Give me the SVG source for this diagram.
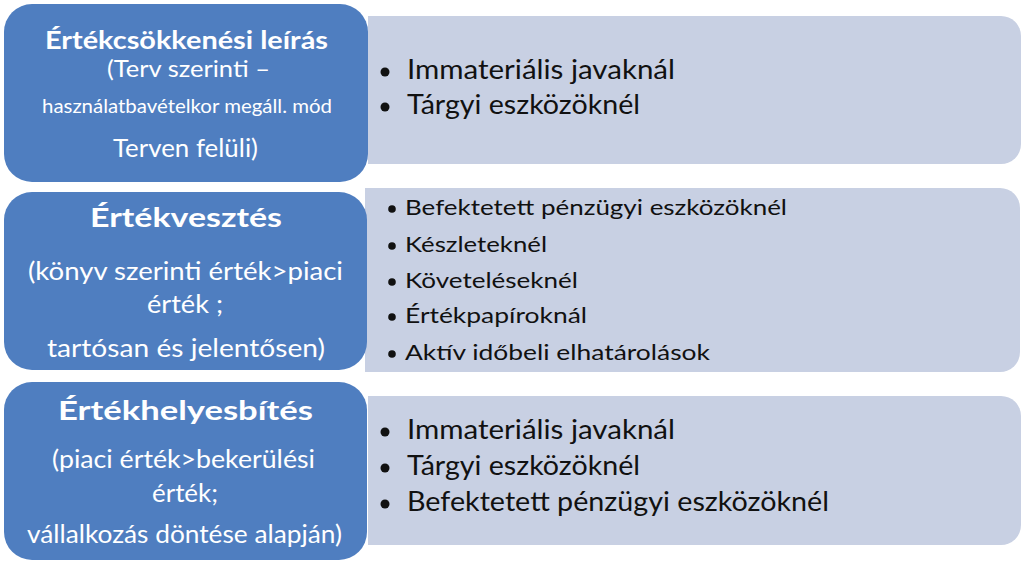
<svg xmlns="http://www.w3.org/2000/svg" width="1023" height="569" viewBox="0 0 1023 569">
<style>
.blue{fill:#4f7ec0}
.gray{fill:#c8d0e3}
.wt{fill:#ffffff;font-family:Lato,"Open Sans","Liberation Sans",sans-serif}
.wb{font-weight:bold}
.dk{fill:#111111;font-family:Lato,"Open Sans","Liberation Sans",sans-serif}
.dot{fill:#111111}
</style>
<rect width="1023" height="569" fill="#ffffff"/>
<g id="list1">
<path class="gray" d="M368,16 H1001 A20,20 0 0 1 1021,36 V144 A20,20 0 0 1 1001,164 H368 Z"/>
<circle class="dot" cx="385" cy="72" r="4.5"/>
<text class="dk" x="407" y="79" font-size="26" textLength="268" lengthAdjust="spacingAndGlyphs">Immateriális javaknál</text>
<circle class="dot" cx="385" cy="107" r="4.5"/>
<text class="dk" x="407" y="114" font-size="26" textLength="233" lengthAdjust="spacingAndGlyphs">Tárgyi eszközöknél</text>
</g>
<g id="list2">
<path class="gray" d="M365,188 H1000 A20,20 0 0 1 1020,208 V352 A20,20 0 0 1 1000,372 H365 Z"/>
<circle class="dot" cx="392" cy="209" r="3.8"/>
<text class="dk" x="405" y="215" font-size="22" textLength="382" lengthAdjust="spacingAndGlyphs">Befektetett pénzügyi eszközöknél</text>
<circle class="dot" cx="392" cy="246" r="3.8"/>
<text class="dk" x="405" y="252" font-size="22" textLength="142" lengthAdjust="spacingAndGlyphs">Készleteknél</text>
<circle class="dot" cx="392" cy="282" r="3.8"/>
<text class="dk" x="405" y="288" font-size="22" textLength="173" lengthAdjust="spacingAndGlyphs">Követeléseknél</text>
<circle class="dot" cx="392" cy="317" r="3.8"/>
<text class="dk" x="405" y="323" font-size="22" textLength="182" lengthAdjust="spacingAndGlyphs">Értékpapíroknál</text>
<circle class="dot" cx="392" cy="354" r="3.8"/>
<text class="dk" x="405" y="360" font-size="22" textLength="305" lengthAdjust="spacingAndGlyphs">Aktív időbeli elhatárolások</text>
</g>
<g id="list3">
<path class="gray" d="M368,396 H1001 A20,20 0 0 1 1021,416 V525 A20,20 0 0 1 1001,545 H368 Z"/>
<circle class="dot" cx="385" cy="432" r="4.5"/>
<text class="dk" x="407" y="439" font-size="26" textLength="268" lengthAdjust="spacingAndGlyphs">Immateriális javaknál</text>
<circle class="dot" cx="385" cy="468" r="4.5"/>
<text class="dk" x="407" y="475" font-size="26" textLength="233" lengthAdjust="spacingAndGlyphs">Tárgyi eszközöknél</text>
<circle class="dot" cx="385" cy="504" r="4.5"/>
<text class="dk" x="407" y="511" font-size="26" textLength="422" lengthAdjust="spacingAndGlyphs">Befektetett pénzügyi eszközöknél</text>
</g>
<g id="node1">
<rect class="blue" x="4" y="4" width="364" height="178" rx="28"/>
<text class="wt wb" x="45" y="49" font-size="24" textLength="283" lengthAdjust="spacingAndGlyphs">Értékcsökkenési leírás</text>
<text class="wt" x="107" y="77" font-size="23" textLength="163" lengthAdjust="spacingAndGlyphs">(Terv szerinti –</text>
<text class="wt" x="42" y="113" font-size="19" textLength="290" lengthAdjust="spacingAndGlyphs">használatbavételkor megáll. mód</text>
<text class="wt" x="113" y="157" font-size="25" textLength="145" lengthAdjust="spacingAndGlyphs">Terven felüli)</text>
</g>
<g id="node2">
<rect class="blue" x="4" y="192" width="363" height="178" rx="28"/>
<text class="wt wb" x="90" y="227" font-size="27" textLength="192" lengthAdjust="spacingAndGlyphs">Értékvesztés</text>
<text class="wt" x="28" y="280" font-size="25" textLength="315" lengthAdjust="spacingAndGlyphs">(könyv szerinti érték&gt;piaci</text>
<text class="wt" x="147" y="313" font-size="25" textLength="76" lengthAdjust="spacingAndGlyphs">érték ;</text>
<text class="wt" x="47" y="357" font-size="25" textLength="278" lengthAdjust="spacingAndGlyphs">tartósan és jelentősen)</text>
</g>
<g id="node3">
<rect class="blue" x="4" y="382" width="363" height="178" rx="28"/>
<text class="wt wb" x="58" y="420" font-size="26" textLength="255" lengthAdjust="spacingAndGlyphs">Értékhelyesbítés</text>
<text class="wt" x="52" y="468" font-size="25" textLength="263" lengthAdjust="spacingAndGlyphs">(piaci érték&gt;bekerülési</text>
<text class="wt" x="152" y="502" font-size="25" textLength="66" lengthAdjust="spacingAndGlyphs">érték;</text>
<text class="wt" x="27" y="543" font-size="25" textLength="315" lengthAdjust="spacingAndGlyphs">vállalkozás döntése alapján)</text>
</g>
</svg>
